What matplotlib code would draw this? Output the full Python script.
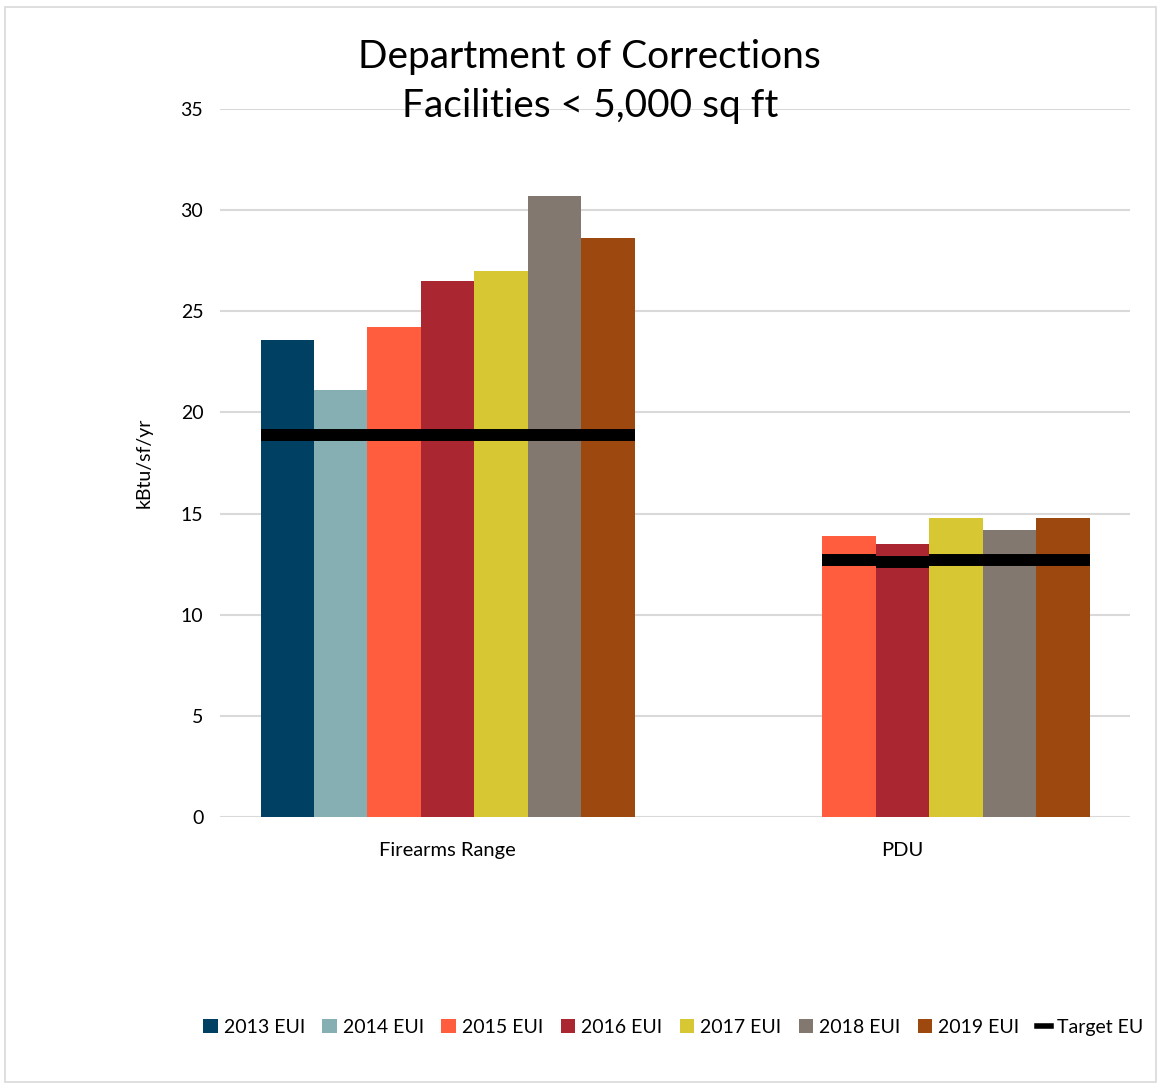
import numpy as np
import matplotlib
matplotlib.use("Agg")
import matplotlib.pyplot as plt
from matplotlib.patches import Patch, Rectangle
from matplotlib.lines import Line2D

plt.rcParams['font.family'] = ['Lato', 'DejaVu Sans']

categories = ['Firearms Range', 'PDU']
series = ['2013 EUI', '2014 EUI', '2015 EUI', '2016 EUI', '2017 EUI', '2018 EUI', '2019 EUI']
firearms = [23.6, 21.1, 24.2, 26.5, 27.0, 30.7, 28.6]
pdu = [np.nan, np.nan, 13.9, 13.5, 14.8, 14.2, 14.8]
target_firearms = [18.9, 18.9, 18.9, 18.88, 18.9, 18.9, 18.9]
target_pdu = [np.nan, np.nan, 12.7, 12.6, 12.7, 12.7, 12.7]
colors = ['#004163', '#86AFB4', '#FF5D3D', '#AA2731', '#D7C833', '#837870', '#9D480E']
yticks = [0, 5, 10, 15, 20, 25, 30, 35]

fig = plt.figure(figsize=(11.61, 10.86), dpi=100)
ax = fig.add_axes([0.1895, 0.2477, 0.7838, 0.6519])

n = len(series)
w = 0.822 / n
x = np.arange(len(categories))
values = [firearms, pdu]
targets = [target_firearms, target_pdu]
for i, s in enumerate(series):
    vals = [values[c][i] for c in range(len(categories))]
    pos = x - 0.411 + w * (i + 0.5)
    ax.bar(pos, vals, width=w, color=colors[i], zorder=2)
    for c in range(len(categories)):
        t = targets[c][i]
        if not np.isnan(t):
            ax.hlines(t, pos[c] - w / 2, pos[c] + w / 2, colors='black',
                      linewidth=8.6, zorder=3, capstyle='butt')

ax.set_xlim(-0.5, 1.5)
ax.set_ylim(0, 35)
ax.set_yticks(yticks)
ax.set_xticks(x)
ax.set_xticklabels(categories, fontsize=14.5)
ax.tick_params(axis='y', length=0, labelsize=14, pad=12)
ax.tick_params(axis='x', length=0, labelsize=14.5, pad=18)
ax.yaxis.grid(True, color='#D9D9D9', linewidth=1.5, zorder=0)
ax.set_axisbelow(True)
for sp in ax.spines.values():
    sp.set_visible(False)
ax.set_ylabel('kBtu/sf/yr', fontsize=14, labelpad=20)

fig.text(0.508, 0.925, 'Department of Corrections\nFacilities < 5,000 sq ft',
         ha='center', va='center', fontsize=28, linespacing=1.45)

handles = [Patch(facecolor=c, edgecolor='none') for c in colors]
handles.append(Line2D([0], [0], color='black', linewidth=4))
labels = series + ['Target EU']
fig.legend(handles, labels, loc='center', bbox_to_anchor=(0.58, 0.054), ncol=8,
           frameon=False, fontsize=14, handlelength=0.75, handleheight=0.75,
           handletextpad=0.3, columnspacing=0.9)

fig.patches.append(Rectangle((0.004, 0.004), 0.992, 0.99, transform=fig.transFigure,
                             fill=False, edgecolor='#D9D9D9', linewidth=1.2))

fig.savefig('out.png', dpi=100)
